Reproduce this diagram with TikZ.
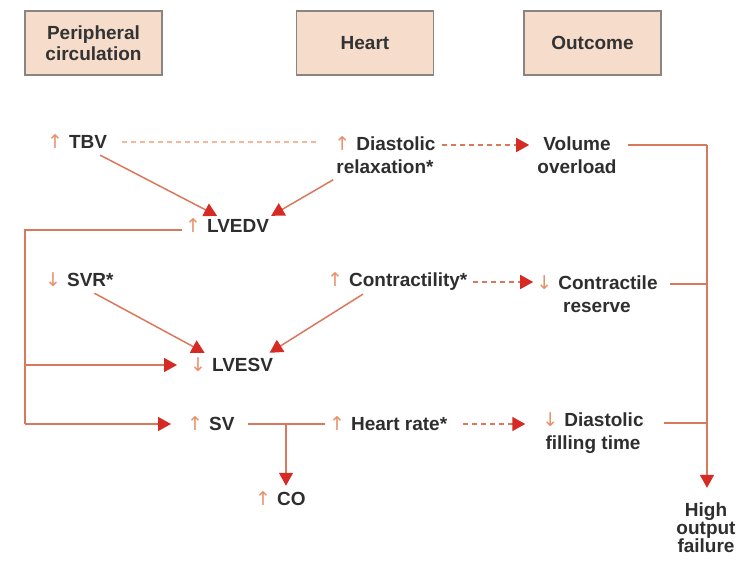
\documentclass[tikz,border=0pt]{standalone}
\usepackage{fontspec}
\setmainfont{Liberation Sans}
\newfontfamily\symf{DejaVu Sans}
\usetikzlibrary{arrows.meta,calc}
\definecolor{boxfill}{HTML}{F6DCCB}
\definecolor{boxline}{HTML}{8A8580}
\definecolor{lnc}{HTML}{D8785C}
\definecolor{tipc}{HTML}{D62A24}
\definecolor{upc}{HTML}{E8906A}
\definecolor{dashc}{HTML}{F2B898}
\newcommand\upa{{\symf\mdseries\color{upc}↑}\hspace{6pt}}
\newcommand\dna{{\symf\mdseries\color{upc}↓}\hspace{6pt}}
\tikzset{
  hbox/.style={draw=boxline, line width=1.3pt, fill=boxfill, minimum width=137pt, minimum height=64pt, align=center, font=\fontsize{19}{21}\selectfont\bfseries, text=black!80},
  lbl/.style={inner sep=1pt, font=\fontsize{19}{23}\selectfont\bfseries, text=black!82},
  lbl2/.style={lbl, align=center},
  conn/.style={draw=lnc, line width=1.5pt},
  arr/.style={conn, -{Triangle[length=13pt,width=14pt,fill=tipc,color=tipc]}},
  darr/.style={conn, dash pattern=on 5pt off 4pt, -{Triangle[length=13pt,width=14pt,fill=tipc,color=tipc]}},
  dlight/.style={draw=dashc, line width=1.5pt, dash pattern=on 5pt off 4pt}
}
\begin{document}
\begin{tikzpicture}[x=1pt,y=-1pt]
\useasboundingbox (0,0) rectangle (738,561);
% header boxes
\node[hbox] (pc) at (93.5,43) {Peripheral\\circulation};
\node[hbox] (hh) at (365,43) {Heart};
\node[hbox] (oc) at (592.5,43) {Outcome};
% labels
\node[lbl, anchor=west] (tbv) at (46,142) {\upa TBV};
\node[lbl2] (dr) at (385,155) {\upa Diastolic\\relaxation*};
\node[lbl2] (vo) at (577,155) {Volume\\overload};
\node[lbl, anchor=west] (lvedv) at (184,226) {\upa LVEDV};
\node[lbl, anchor=west] (svr) at (44,280) {\dna SVR*};
\node[lbl, anchor=west] (con) at (326,282) {\upa Contractility*};
\node[lbl2] (cr) at (597,294) {\dna Contractile\\reserve};
\node[lbl, anchor=west] (lvesv) at (189,365) {\dna LVESV};
\node[lbl, anchor=west] (sv) at (186,424) {\upa SV};
\node[lbl, anchor=west] (hr) at (328,424) {\upa Heart rate*};
\node[lbl2] (dft) at (593,433) {\dna Diastolic\\filling time};
\node[lbl, anchor=west] (co) at (254,499) {\upa CO};
\node[lbl2, font=\fontsize{19}{18}\selectfont\bfseries] (hof) at (706,528) {High\\output\\failure};
% rails
\coordinate (lt) at (25,230);
\coordinate (rt) at (707,145);
\coordinate (br) at (286,424);
% top row
\draw[dlight] ($(tbv.east)+(14,0)$) -- ($(tbv.east -| dr.west)+(-16,0)$);
\draw[darr] ($(dr.east)+(5,-10)$) -- ($(vo.west)+(-7,-10)$);
\draw[conn] ($(vo.east)+(10,-10)$) -- (rt);
\draw[arr] (rt) -- ($(rt |- hof.north)+(0,-14)$);
% to LVEDV
\draw[arr] ($(tbv.south)+(23,5)$) -- ($(lvedv.north)+(-10,-2)$);
\draw[arr] ($(dr.south west)+(0,5)$) -- ($(lvedv.north)+(44,-2)$);
% LVEDV loop
\draw[conn] ($(lvedv.west)+(-2,4)$) -- (lt) -- (lt |- sv.west);
\draw[arr] (lt |- sv.west) -- ($(sv.west)+(-15,0)$);
\draw[arr] (lt |- lvesv.west) -- ($(lvesv.west)+(-12,0)$);
% to LVESV
\draw[arr] ($(svr.south)+(15,5)$) -- ($(lvesv.north)+(-27,-4)$);
\draw[arr] ($(con.south west)+(37,2)$) -- ($(lvesv.north)+(38,-4)$);
% contractility
\draw[darr] ($(con.east)+(4,0)$) -- ($(cr.west |- con.east)+(-2,0)$);
\draw[conn] ($(cr.east)+(11,-10)$) -- ($(rt |- cr.east)+(0,-10)$);
% SV row
\draw[conn] ($(sv.east)+(12,0)$) -- ($(hr.west)+(-3,0)$);
\draw[arr] (br) -- ($(co.north -| br)+(0,-5)$);
\draw[darr] ($(hr.east)+(15,0)$) -- ($(dft.west |- hr.east)+(-16,0)$);
\draw[conn] ($(dft.east)+(19,-10)$) -- ($(rt |- dft.east)+(0,-10)$);
\end{tikzpicture}
\end{document}
